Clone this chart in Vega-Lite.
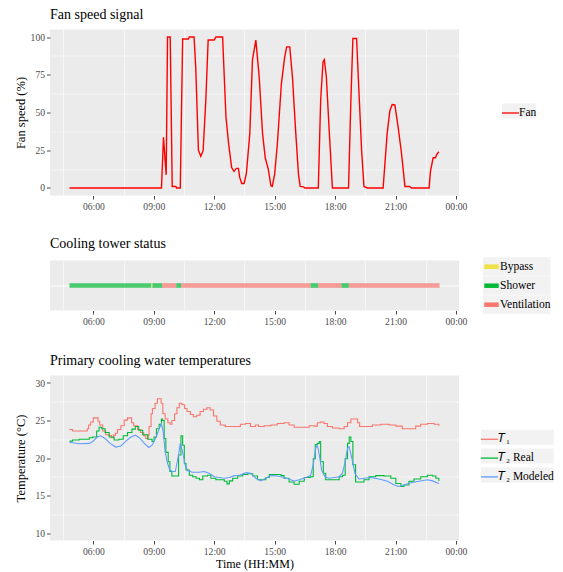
{
  "$schema": "https://vega.github.io/schema/vega-lite/v6.json",
  "padding": {"left": 14, "top": 7.5, "right": 5, "bottom": 3},
  "bounds": "flush",
  "spacing": 65,
  "resolve": {"scale": {"stroke": "independent", "x": "independent", "y": "independent"}, "legend": {"stroke": "independent"}},
  "config": {
    "view": {"fill": "#EBEBEB", "stroke": null},
    "font": "Liberation Serif",
    "axis": {"domain": false, "gridColor": "#FFFFFF", "gridWidth": 1.1, "tickColor": "#333333", "tickSize": 3.5, "tickWidth": 0.9, "labelFont": "Liberation Serif", "labelFontSize": 9.6, "labelColor": "#4D4D4D", "labelPadding": 2, "titleFont": "Liberation Serif", "titleFontSize": 12.5, "titleFontWeight": "normal", "titleColor": "#000000"},
    "legend": {"labelFont": "Liberation Serif", "labelFontSize": 11.5, "labelColor": "#000000", "symbolSize": 289, "symbolStrokeWidth": 1.3, "symbolType": "stroke", "symbolOffset": -1, "labelOffset": -1, "rowPadding": 0, "padding": 0, "symbolOpacity": 1},
    "title": {"font": "Liberation Serif", "fontSize": 14, "fontWeight": "normal", "anchor": "start", "frame": "group", "color": "#000000", "baseline": "alphabetic", "offset": 7.5}
  },
  "vconcat": [
    {
      "width": 409, "height": 166,
      "title": {"text": "Fan speed signal"},
      "data": {"values": [
        {"t": "04:49", "fan": 0}, {"t": "09:23", "fan": 0}, {"t": "09:29", "fan": 33.5}, {"t": "09:37", "fan": 8.7}, {"t": "09:41", "fan": 100}, {"t": "09:49", "fan": 100}, {"t": "09:55", "fan": 1}, {"t": "10:06", "fan": 1}, {"t": "10:08", "fan": 0}, {"t": "10:19", "fan": 0}, {"t": "10:26", "fan": 98.7}, {"t": "10:43", "fan": 98.7}, {"t": "10:46", "fan": 100}, {"t": "11:00", "fan": 100}, {"t": "11:05", "fan": 80}, {"t": "11:13", "fan": 25}, {"t": "11:20", "fan": 21}, {"t": "11:27", "fan": 24.7}, {"t": "11:35", "fan": 58}, {"t": "11:42", "fan": 98}, {"t": "12:00", "fan": 98}, {"t": "12:05", "fan": 100}, {"t": "12:25", "fan": 100}, {"t": "12:35", "fan": 47}, {"t": "12:43", "fan": 29}, {"t": "12:52", "fan": 13.5}, {"t": "12:59", "fan": 11}, {"t": "13:06", "fan": 13}, {"t": "13:12", "fan": 13}, {"t": "13:16", "fan": 7}, {"t": "13:22", "fan": 3}, {"t": "13:29", "fan": 3}, {"t": "13:36", "fan": 10}, {"t": "13:46", "fan": 36}, {"t": "13:54", "fan": 85}, {"t": "14:04", "fan": 98}, {"t": "14:14", "fan": 73.5}, {"t": "14:24", "fan": 36}, {"t": "14:32", "fan": 20}, {"t": "14:41", "fan": 12.5}, {"t": "14:49", "fan": 1.3}, {"t": "14:53", "fan": 1}, {"t": "15:00", "fan": 9}, {"t": "15:08", "fan": 29}, {"t": "15:20", "fan": 69}, {"t": "15:30", "fan": 87}, {"t": "15:36", "fan": 93.5}, {"t": "15:45", "fan": 93.5}, {"t": "15:53", "fan": 73.5}, {"t": "16:03", "fan": 36}, {"t": "16:11", "fan": 9}, {"t": "16:16", "fan": 1}, {"t": "16:26", "fan": 0.7}, {"t": "16:30", "fan": 0}, {"t": "17:10", "fan": 0}, {"t": "17:17", "fan": 58}, {"t": "17:24", "fan": 83.5}, {"t": "17:28", "fan": 85}, {"t": "17:34", "fan": 73.5}, {"t": "17:42", "fan": 40}, {"t": "17:52", "fan": 0}, {"t": "18:40", "fan": 0}, {"t": "18:47", "fan": 58}, {"t": "18:53", "fan": 99}, {"t": "19:04", "fan": 99}, {"t": "19:10", "fan": 69}, {"t": "19:19", "fan": 24.7}, {"t": "19:26", "fan": 1}, {"t": "19:36", "fan": 0}, {"t": "20:23", "fan": 0}, {"t": "20:35", "fan": 36}, {"t": "20:43", "fan": 51}, {"t": "20:50", "fan": 55.3}, {"t": "20:58", "fan": 55}, {"t": "21:08", "fan": 40}, {"t": "21:18", "fan": 22.5}, {"t": "21:28", "fan": 1}, {"t": "21:42", "fan": 1}, {"t": "21:48", "fan": 0}, {"t": "22:40", "fan": 0}, {"t": "22:44", "fan": 11}, {"t": "22:52", "fan": 20}, {"t": "22:59", "fan": 20}, {"t": "23:02", "fan": 22}, {"t": "23:09", "fan": 24}
      ], "format": {"parse": {"t": "date:'%H:%M'"}}},
      "layer": [
        {
          "mark": {"type": "line", "opacity": 0},
          "encoding": {
            "x": {"field": "t", "type": "temporal", "scale": {"domain": [{"year": 1900, "month": 1, "date": 1, "hours": 3, "minutes": 51}, {"year": 1900, "month": 1, "date": 2, "hours": 0, "minutes": 9}]}, "axis": {"orient": "bottom", "values": [{"year": 1900, "month": 1, "date": 1, "hours": 4, "minutes": 30}, {"year": 1900, "month": 1, "date": 1, "hours": 7, "minutes": 30}, {"year": 1900, "month": 1, "date": 1, "hours": 10, "minutes": 30}, {"year": 1900, "month": 1, "date": 1, "hours": 13, "minutes": 30}, {"year": 1900, "month": 1, "date": 1, "hours": 16, "minutes": 30}, {"year": 1900, "month": 1, "date": 1, "hours": 19, "minutes": 30}, {"year": 1900, "month": 1, "date": 1, "hours": 22, "minutes": 30}], "labels": false, "ticks": false, "title": null, "gridWidth": 0.55}},
            "y": {"field": "fan", "type": "quantitative", "scale": {"domain": [-5, 105], "nice": false}, "axis": {"orient": "left", "values": [12.5, 37.5, 62.5, 87.5], "labels": false, "ticks": false, "title": null, "gridWidth": 0.55}}
          }
        },
        {
          "mark": {"type": "line", "strokeWidth": 1.4},
          "encoding": {
            "x": {"field": "t", "type": "temporal", "scale": {"domain": [{"year": 1900, "month": 1, "date": 1, "hours": 3, "minutes": 51}, {"year": 1900, "month": 1, "date": 2, "hours": 0, "minutes": 9}]}, "axis": {"orient": "bottom", "values": [{"year": 1900, "month": 1, "date": 1, "hours": 6}, {"year": 1900, "month": 1, "date": 1, "hours": 9}, {"year": 1900, "month": 1, "date": 1, "hours": 12}, {"year": 1900, "month": 1, "date": 1, "hours": 15}, {"year": 1900, "month": 1, "date": 1, "hours": 18}, {"year": 1900, "month": 1, "date": 1, "hours": 21}, {"year": 1900, "month": 1, "date": 2, "hours": 0}], "format": "%H:%M", "formatType": "time", "labelDx": -7, "title": null}},
            "y": {"field": "fan", "type": "quantitative", "scale": {"domain": [-5, 105], "nice": false}, "axis": {"orient": "left", "values": [0, 25, 50, 75, 100], "title": "Fan speed (%)", "titleX": -23, "titleY": 83, "titleAngle": -90, "titleAlign": "center", "titleBaseline": "bottom"}},
            "stroke": {"datum": "Fan", "type": "nominal", "scale": {"domain": ["Fan"], "range": ["#FF0000"]}, "legend": {"orient": "none", "legendX": 452, "legendY": 74, "title": null, "symbolSize": 289, "symbolStrokeWidth": 1.3, "encode": {"entries": {"update": {"fill": {"value": "#F2F2F2"}, "width": {"value": 17}, "height": {"value": 18.5}}}}}}
          }
        }
      ],
      "resolve": {"axis": {"x": "independent", "y": "independent"}}
    },
    {
      "width": 409, "height": 50,
      "title": {"text": "Cooling tower status", "offset": 6},
      "data": {"values": [
        {"start": "04:49", "end": "08:53", "status": "Shower"},
        {"start": "08:53", "end": "08:56", "status": "Bypass"},
        {"start": "08:56", "end": "09:25", "status": "Shower"},
        {"start": "09:25", "end": "10:07", "status": "Ventilation"},
        {"start": "10:07", "end": "10:22", "status": "Shower"},
        {"start": "10:22", "end": "16:47", "status": "Ventilation"},
        {"start": "16:47", "end": "17:10", "status": "Shower"},
        {"start": "17:10", "end": "18:19", "status": "Ventilation"},
        {"start": "18:19", "end": "18:41", "status": "Shower"},
        {"start": "18:41", "end": "23:11", "status": "Ventilation"}
      ], "format": {"parse": {"start": "date:'%H:%M'", "end": "date:'%H:%M'"}}},
      "layer": [
        {
          "mark": {"type": "rule", "opacity": 0},
          "encoding": {
            "x": {"field": "start", "type": "temporal", "scale": {"domain": [{"year": 1900, "month": 1, "date": 1, "hours": 3, "minutes": 51}, {"year": 1900, "month": 1, "date": 2, "hours": 0, "minutes": 9}]}, "axis": {"orient": "bottom", "values": [{"year": 1900, "month": 1, "date": 1, "hours": 4, "minutes": 30}, {"year": 1900, "month": 1, "date": 1, "hours": 7, "minutes": 30}, {"year": 1900, "month": 1, "date": 1, "hours": 10, "minutes": 30}, {"year": 1900, "month": 1, "date": 1, "hours": 13, "minutes": 30}, {"year": 1900, "month": 1, "date": 1, "hours": 16, "minutes": 30}, {"year": 1900, "month": 1, "date": 1, "hours": 19, "minutes": 30}, {"year": 1900, "month": 1, "date": 1, "hours": 22, "minutes": 30}], "labels": false, "ticks": false, "title": null, "gridWidth": 0.55}},
            "x2": {"field": "end"},
            "y": {"datum": "tower", "type": "nominal", "scale": {"type": "point", "padding": 0.5}, "axis": null}
          }
        },
        {
          "mark": {"type": "rule", "strokeWidth": 4.7, "opacity": 0.7, "strokeCap": "butt"},
          "encoding": {
            "x": {"field": "start", "type": "temporal", "scale": {"domain": [{"year": 1900, "month": 1, "date": 1, "hours": 3, "minutes": 51}, {"year": 1900, "month": 1, "date": 2, "hours": 0, "minutes": 9}]}, "axis": {"orient": "bottom", "values": [{"year": 1900, "month": 1, "date": 1, "hours": 6}, {"year": 1900, "month": 1, "date": 1, "hours": 9}, {"year": 1900, "month": 1, "date": 1, "hours": 12}, {"year": 1900, "month": 1, "date": 1, "hours": 15}, {"year": 1900, "month": 1, "date": 1, "hours": 18}, {"year": 1900, "month": 1, "date": 1, "hours": 21}, {"year": 1900, "month": 1, "date": 2, "hours": 0}], "format": "%H:%M", "formatType": "time", "labelDx": -7, "title": null}},
            "x2": {"field": "end"},
            "y": {"datum": "tower", "type": "nominal", "scale": {"type": "point", "padding": 0.5}, "axis": {"orient": "left", "labels": false, "ticks": false, "title": null, "grid": true}},
            "stroke": {"field": "status", "type": "nominal", "scale": {"domain": ["Bypass", "Shower", "Ventilation"], "range": ["#EFE043", "#00BA38", "#F8766D"]}, "legend": {"orient": "none", "legendX": 433, "legendY": -3.3, "title": null, "symbolStrokeWidth": 4.5, "symbolSize": 210, "encode": {"entries": {"update": {"fill": {"value": "#F2F2F2"}, "width": {"value": 17}, "height": {"value": 18.5}}}}}}
          }
        }
      ],
      "resolve": {"axis": {"x": "independent", "y": "independent"}}
    },
    {
      "width": 409, "height": 165,
      "title": {"text": "Primary cooling water temperatures"},
      "data": {"values": [
        {"t": "04:49", "series": "T₁", "temp": 23.8}, {"t": "04:58", "series": "T₁", "temp": 23.6}, {"t": "05:12", "series": "T₁", "temp": 23.6}, {"t": "05:42", "series": "T₁", "temp": 23.9}, {"t": "05:46", "series": "T₁", "temp": 24.4}, {"t": "05:52", "series": "T₁", "temp": 24.8}, {"t": "06:00", "series": "T₁", "temp": 25.35}, {"t": "06:08", "series": "T₁", "temp": 25.35}, {"t": "06:14", "series": "T₁", "temp": 24.9}, {"t": "06:19", "series": "T₁", "temp": 24.4}, {"t": "06:28", "series": "T₁", "temp": 23.6}, {"t": "06:37", "series": "T₁", "temp": 23.1}, {"t": "06:47", "series": "T₁", "temp": 23.0}, {"t": "06:54", "series": "T₁", "temp": 22.7}, {"t": "07:00", "series": "T₁", "temp": 23.05}, {"t": "07:06", "series": "T₁", "temp": 23.3}, {"t": "07:12", "series": "T₁", "temp": 23.8}, {"t": "07:22", "series": "T₁", "temp": 24.3}, {"t": "07:32", "series": "T₁", "temp": 25.05}, {"t": "07:42", "series": "T₁", "temp": 25.35}, {"t": "07:48", "series": "T₁", "temp": 25.35}, {"t": "07:54", "series": "T₁", "temp": 24.7}, {"t": "08:00", "series": "T₁", "temp": 24.3}, {"t": "08:12", "series": "T₁", "temp": 23.8}, {"t": "08:21", "series": "T₁", "temp": 23.4}, {"t": "08:30", "series": "T₁", "temp": 22.96}, {"t": "08:36", "series": "T₁", "temp": 22.6}, {"t": "08:43", "series": "T₁", "temp": 23.05}, {"t": "08:46", "series": "T₁", "temp": 24.2}, {"t": "08:52", "series": "T₁", "temp": 25.9}, {"t": "08:56", "series": "T₁", "temp": 26.6}, {"t": "09:04", "series": "T₁", "temp": 27.3}, {"t": "09:11", "series": "T₁", "temp": 27.9}, {"t": "09:17", "series": "T₁", "temp": 27.9}, {"t": "09:22", "series": "T₁", "temp": 27.3}, {"t": "09:27", "series": "T₁", "temp": 25.9}, {"t": "09:34", "series": "T₁", "temp": 25.2}, {"t": "09:42", "series": "T₁", "temp": 24.7}, {"t": "09:49", "series": "T₁", "temp": 24.5}, {"t": "09:54", "series": "T₁", "temp": 25.0}, {"t": "10:02", "series": "T₁", "temp": 25.9}, {"t": "10:09", "series": "T₁", "temp": 26.7}, {"t": "10:16", "series": "T₁", "temp": 27.3}, {"t": "10:24", "series": "T₁", "temp": 27.1}, {"t": "10:32", "series": "T₁", "temp": 26.6}, {"t": "10:39", "series": "T₁", "temp": 26.2}, {"t": "10:49", "series": "T₁", "temp": 25.8}, {"t": "10:58", "series": "T₁", "temp": 25.5}, {"t": "11:08", "series": "T₁", "temp": 25.7}, {"t": "11:18", "series": "T₁", "temp": 26.2}, {"t": "11:28", "series": "T₁", "temp": 26.5}, {"t": "11:38", "series": "T₁", "temp": 26.7}, {"t": "11:48", "series": "T₁", "temp": 26.4}, {"t": "11:58", "series": "T₁", "temp": 25.6}, {"t": "12:08", "series": "T₁", "temp": 24.9}, {"t": "12:18", "series": "T₁", "temp": 24.4}, {"t": "12:33", "series": "T₁", "temp": 24.2}, {"t": "13:03", "series": "T₁", "temp": 24.2}, {"t": "13:18", "series": "T₁", "temp": 24.5}, {"t": "13:33", "series": "T₁", "temp": 24.6}, {"t": "13:48", "series": "T₁", "temp": 24.2}, {"t": "14:03", "series": "T₁", "temp": 24.4}, {"t": "14:12", "series": "T₁", "temp": 24.2}, {"t": "14:29", "series": "T₁", "temp": 24.3}, {"t": "14:49", "series": "T₁", "temp": 24.4}, {"t": "15:08", "series": "T₁", "temp": 24.6}, {"t": "15:28", "series": "T₁", "temp": 24.7}, {"t": "15:43", "series": "T₁", "temp": 24.4}, {"t": "15:58", "series": "T₁", "temp": 24.1}, {"t": "16:23", "series": "T₁", "temp": 24.1}, {"t": "16:43", "series": "T₁", "temp": 24.3}, {"t": "16:58", "series": "T₁", "temp": 24.25}, {"t": "17:07", "series": "T₁", "temp": 24.7}, {"t": "17:17", "series": "T₁", "temp": 24.8}, {"t": "17:27", "series": "T₁", "temp": 24.6}, {"t": "17:37", "series": "T₁", "temp": 24.2}, {"t": "17:52", "series": "T₁", "temp": 24.0}, {"t": "18:12", "series": "T₁", "temp": 23.9}, {"t": "18:27", "series": "T₁", "temp": 24.2}, {"t": "18:37", "series": "T₁", "temp": 24.7}, {"t": "18:47", "series": "T₁", "temp": 25.2}, {"t": "18:56", "series": "T₁", "temp": 25.2}, {"t": "19:07", "series": "T₁", "temp": 24.7}, {"t": "19:13", "series": "T₁", "temp": 24.2}, {"t": "19:31", "series": "T₁", "temp": 24.2}, {"t": "19:51", "series": "T₁", "temp": 24.4}, {"t": "20:16", "series": "T₁", "temp": 24.5}, {"t": "20:41", "series": "T₁", "temp": 24.4}, {"t": "21:01", "series": "T₁", "temp": 24.25}, {"t": "21:20", "series": "T₁", "temp": 23.9}, {"t": "21:40", "series": "T₁", "temp": 23.9}, {"t": "22:00", "series": "T₁", "temp": 24.25}, {"t": "22:15", "series": "T₁", "temp": 24.5}, {"t": "22:35", "series": "T₁", "temp": 24.6}, {"t": "22:55", "series": "T₁", "temp": 24.5}, {"t": "23:09", "series": "T₁", "temp": 24.3},
        {"t": "04:49", "series": "T₂ Real", "temp": 22.25}, {"t": "04:58", "series": "T₂ Real", "temp": 22.4}, {"t": "05:18", "series": "T₂ Real", "temp": 22.5}, {"t": "05:48", "series": "T₂ Real", "temp": 22.7}, {"t": "05:58", "series": "T₂ Real", "temp": 22.8}, {"t": "06:10", "series": "T₂ Real", "temp": 23.6}, {"t": "06:17", "series": "T₂ Real", "temp": 24.1}, {"t": "06:25", "series": "T₂ Real", "temp": 23.9}, {"t": "06:35", "series": "T₂ Real", "temp": 23.4}, {"t": "06:47", "series": "T₂ Real", "temp": 22.8}, {"t": "07:02", "series": "T₂ Real", "temp": 22.4}, {"t": "07:16", "series": "T₂ Real", "temp": 22.5}, {"t": "07:29", "series": "T₂ Real", "temp": 22.96}, {"t": "07:42", "series": "T₂ Real", "temp": 23.4}, {"t": "07:55", "series": "T₂ Real", "temp": 23.85}, {"t": "08:05", "series": "T₂ Real", "temp": 24.2}, {"t": "08:15", "series": "T₂ Real", "temp": 23.7}, {"t": "08:27", "series": "T₂ Real", "temp": 23.1}, {"t": "08:42", "series": "T₂ Real", "temp": 22.5}, {"t": "08:55", "series": "T₂ Real", "temp": 22.2}, {"t": "09:01", "series": "T₂ Real", "temp": 22.8}, {"t": "09:08", "series": "T₂ Real", "temp": 23.9}, {"t": "09:16", "series": "T₂ Real", "temp": 24.5}, {"t": "09:23", "series": "T₂ Real", "temp": 25.2}, {"t": "09:26", "series": "T₂ Real", "temp": 25.0}, {"t": "09:31", "series": "T₂ Real", "temp": 22.6}, {"t": "09:36", "series": "T₂ Real", "temp": 20.75}, {"t": "09:43", "series": "T₂ Real", "temp": 19.5}, {"t": "09:48", "series": "T₂ Real", "temp": 18.2}, {"t": "09:54", "series": "T₂ Real", "temp": 17.6}, {"t": "10:09", "series": "T₂ Real", "temp": 17.6}, {"t": "10:14", "series": "T₂ Real", "temp": 20.4}, {"t": "10:21", "series": "T₂ Real", "temp": 22.96}, {"t": "10:26", "series": "T₂ Real", "temp": 21.7}, {"t": "10:31", "series": "T₂ Real", "temp": 19.3}, {"t": "10:36", "series": "T₂ Real", "temp": 18.4}, {"t": "10:46", "series": "T₂ Real", "temp": 17.7}, {"t": "10:56", "series": "T₂ Real", "temp": 17.5}, {"t": "11:06", "series": "T₂ Real", "temp": 17.3}, {"t": "11:16", "series": "T₂ Real", "temp": 17.1}, {"t": "11:26", "series": "T₂ Real", "temp": 17.6}, {"t": "11:40", "series": "T₂ Real", "temp": 17.7}, {"t": "11:50", "series": "T₂ Real", "temp": 17.3}, {"t": "12:05", "series": "T₂ Real", "temp": 17.1}, {"t": "12:20", "series": "T₂ Real", "temp": 17.1}, {"t": "12:30", "series": "T₂ Real", "temp": 16.9}, {"t": "12:38", "series": "T₂ Real", "temp": 16.55}, {"t": "12:45", "series": "T₂ Real", "temp": 16.95}, {"t": "12:55", "series": "T₂ Real", "temp": 17.3}, {"t": "13:10", "series": "T₂ Real", "temp": 17.6}, {"t": "13:25", "series": "T₂ Real", "temp": 17.8}, {"t": "13:40", "series": "T₂ Real", "temp": 17.9}, {"t": "13:55", "series": "T₂ Real", "temp": 17.6}, {"t": "14:09", "series": "T₂ Real", "temp": 17.1}, {"t": "14:24", "series": "T₂ Real", "temp": 17.1}, {"t": "14:34", "series": "T₂ Real", "temp": 17.4}, {"t": "14:44", "series": "T₂ Real", "temp": 17.8}, {"t": "15:04", "series": "T₂ Real", "temp": 17.8}, {"t": "15:19", "series": "T₂ Real", "temp": 17.65}, {"t": "15:28", "series": "T₂ Real", "temp": 17.3}, {"t": "15:43", "series": "T₂ Real", "temp": 16.8}, {"t": "15:58", "series": "T₂ Real", "temp": 16.5}, {"t": "16:13", "series": "T₂ Real", "temp": 16.9}, {"t": "16:28", "series": "T₂ Real", "temp": 17.4}, {"t": "16:47", "series": "T₂ Real", "temp": 17.5}, {"t": "16:55", "series": "T₂ Real", "temp": 19.9}, {"t": "17:01", "series": "T₂ Real", "temp": 21.8}, {"t": "17:07", "series": "T₂ Real", "temp": 21.95}, {"t": "17:13", "series": "T₂ Real", "temp": 22.2}, {"t": "17:17", "series": "T₂ Real", "temp": 19.5}, {"t": "17:25", "series": "T₂ Real", "temp": 17.97}, {"t": "17:32", "series": "T₂ Real", "temp": 17.1}, {"t": "17:52", "series": "T₂ Real", "temp": 17.1}, {"t": "18:12", "series": "T₂ Real", "temp": 17.5}, {"t": "18:22", "series": "T₂ Real", "temp": 17.7}, {"t": "18:30", "series": "T₂ Real", "temp": 19.9}, {"t": "18:37", "series": "T₂ Real", "temp": 21.95}, {"t": "18:42", "series": "T₂ Real", "temp": 22.8}, {"t": "18:47", "series": "T₂ Real", "temp": 22.2}, {"t": "18:53", "series": "T₂ Real", "temp": 19.1}, {"t": "19:01", "series": "T₂ Real", "temp": 16.8}, {"t": "19:13", "series": "T₂ Real", "temp": 16.8}, {"t": "19:26", "series": "T₂ Real", "temp": 17.1}, {"t": "19:41", "series": "T₂ Real", "temp": 17.5}, {"t": "20:01", "series": "T₂ Real", "temp": 17.65}, {"t": "20:26", "series": "T₂ Real", "temp": 17.6}, {"t": "20:46", "series": "T₂ Real", "temp": 17.3}, {"t": "21:01", "series": "T₂ Real", "temp": 16.6}, {"t": "21:16", "series": "T₂ Real", "temp": 16.2}, {"t": "21:25", "series": "T₂ Real", "temp": 16.4}, {"t": "21:40", "series": "T₂ Real", "temp": 16.9}, {"t": "21:55", "series": "T₂ Real", "temp": 17.2}, {"t": "22:15", "series": "T₂ Real", "temp": 17.5}, {"t": "22:35", "series": "T₂ Real", "temp": 17.7}, {"t": "22:50", "series": "T₂ Real", "temp": 17.6}, {"t": "23:00", "series": "T₂ Real", "temp": 17.3}, {"t": "23:09", "series": "T₂ Real", "temp": 16.95},
        {"t": "04:49", "series": "T₂ Modeled", "temp": 22.1}, {"t": "05:18", "series": "T₂ Modeled", "temp": 21.9}, {"t": "05:48", "series": "T₂ Modeled", "temp": 21.95}, {"t": "05:58", "series": "T₂ Modeled", "temp": 22.2}, {"t": "06:12", "series": "T₂ Modeled", "temp": 22.8}, {"t": "06:22", "series": "T₂ Modeled", "temp": 22.96}, {"t": "06:35", "series": "T₂ Modeled", "temp": 22.6}, {"t": "06:50", "series": "T₂ Modeled", "temp": 21.95}, {"t": "07:07", "series": "T₂ Modeled", "temp": 21.46}, {"t": "07:22", "series": "T₂ Modeled", "temp": 21.6}, {"t": "07:37", "series": "T₂ Modeled", "temp": 22.25}, {"t": "07:52", "series": "T₂ Modeled", "temp": 22.8}, {"t": "08:05", "series": "T₂ Modeled", "temp": 23.05}, {"t": "08:17", "series": "T₂ Modeled", "temp": 22.7}, {"t": "08:32", "series": "T₂ Modeled", "temp": 21.95}, {"t": "08:45", "series": "T₂ Modeled", "temp": 21.4}, {"t": "08:55", "series": "T₂ Modeled", "temp": 21.7}, {"t": "09:07", "series": "T₂ Modeled", "temp": 22.8}, {"t": "09:16", "series": "T₂ Modeled", "temp": 23.9}, {"t": "09:23", "series": "T₂ Modeled", "temp": 24.55}, {"t": "09:28", "series": "T₂ Modeled", "temp": 23.5}, {"t": "09:34", "series": "T₂ Modeled", "temp": 20.8}, {"t": "09:41", "series": "T₂ Modeled", "temp": 19.3}, {"t": "09:48", "series": "T₂ Modeled", "temp": 18.4}, {"t": "09:56", "series": "T₂ Modeled", "temp": 18.2}, {"t": "10:04", "series": "T₂ Modeled", "temp": 18.2}, {"t": "10:11", "series": "T₂ Modeled", "temp": 19.7}, {"t": "10:19", "series": "T₂ Modeled", "temp": 21.95}, {"t": "10:26", "series": "T₂ Modeled", "temp": 20.8}, {"t": "10:33", "series": "T₂ Modeled", "temp": 19.1}, {"t": "10:41", "series": "T₂ Modeled", "temp": 18.3}, {"t": "10:56", "series": "T₂ Modeled", "temp": 18.1}, {"t": "11:16", "series": "T₂ Modeled", "temp": 18.1}, {"t": "11:30", "series": "T₂ Modeled", "temp": 18.2}, {"t": "11:45", "series": "T₂ Modeled", "temp": 17.97}, {"t": "12:00", "series": "T₂ Modeled", "temp": 17.5}, {"t": "12:15", "series": "T₂ Modeled", "temp": 17.4}, {"t": "12:30", "series": "T₂ Modeled", "temp": 17.3}, {"t": "12:45", "series": "T₂ Modeled", "temp": 17.4}, {"t": "13:00", "series": "T₂ Modeled", "temp": 17.65}, {"t": "13:15", "series": "T₂ Modeled", "temp": 17.7}, {"t": "13:35", "series": "T₂ Modeled", "temp": 18.05}, {"t": "13:49", "series": "T₂ Modeled", "temp": 17.97}, {"t": "14:04", "series": "T₂ Modeled", "temp": 17.3}, {"t": "14:19", "series": "T₂ Modeled", "temp": 16.95}, {"t": "14:29", "series": "T₂ Modeled", "temp": 17.2}, {"t": "14:49", "series": "T₂ Modeled", "temp": 17.65}, {"t": "15:08", "series": "T₂ Modeled", "temp": 17.6}, {"t": "15:28", "series": "T₂ Modeled", "temp": 17.4}, {"t": "15:43", "series": "T₂ Modeled", "temp": 17.2}, {"t": "15:58", "series": "T₂ Modeled", "temp": 16.9}, {"t": "16:13", "series": "T₂ Modeled", "temp": 17.1}, {"t": "16:33", "series": "T₂ Modeled", "temp": 17.4}, {"t": "16:47", "series": "T₂ Modeled", "temp": 17.65}, {"t": "16:55", "series": "T₂ Modeled", "temp": 19.1}, {"t": "17:02", "series": "T₂ Modeled", "temp": 21.3}, {"t": "17:07", "series": "T₂ Modeled", "temp": 21.7}, {"t": "17:13", "series": "T₂ Modeled", "temp": 20.4}, {"t": "17:20", "series": "T₂ Modeled", "temp": 18.4}, {"t": "17:30", "series": "T₂ Modeled", "temp": 17.5}, {"t": "17:42", "series": "T₂ Modeled", "temp": 17.3}, {"t": "17:57", "series": "T₂ Modeled", "temp": 17.4}, {"t": "18:12", "series": "T₂ Modeled", "temp": 17.5}, {"t": "18:22", "series": "T₂ Modeled", "temp": 17.97}, {"t": "18:30", "series": "T₂ Modeled", "temp": 19.5}, {"t": "18:37", "series": "T₂ Modeled", "temp": 21.3}, {"t": "18:42", "series": "T₂ Modeled", "temp": 21.5}, {"t": "18:50", "series": "T₂ Modeled", "temp": 19.95}, {"t": "18:59", "series": "T₂ Modeled", "temp": 17.97}, {"t": "19:11", "series": "T₂ Modeled", "temp": 17.2}, {"t": "19:26", "series": "T₂ Modeled", "temp": 17.3}, {"t": "19:46", "series": "T₂ Modeled", "temp": 17.4}, {"t": "20:11", "series": "T₂ Modeled", "temp": 17.2}, {"t": "20:36", "series": "T₂ Modeled", "temp": 16.9}, {"t": "20:56", "series": "T₂ Modeled", "temp": 16.4}, {"t": "21:10", "series": "T₂ Modeled", "temp": 16.2}, {"t": "21:25", "series": "T₂ Modeled", "temp": 16.4}, {"t": "21:45", "series": "T₂ Modeled", "temp": 16.7}, {"t": "22:10", "series": "T₂ Modeled", "temp": 16.9}, {"t": "22:35", "series": "T₂ Modeled", "temp": 17.1}, {"t": "22:50", "series": "T₂ Modeled", "temp": 16.95}, {"t": "23:09", "series": "T₂ Modeled", "temp": 16.6}
      ], "format": {"parse": {"t": "date:'%H:%M'"}}},
      "layer": [
        {
          "mark": {"type": "line", "opacity": 0},
          "encoding": {
            "x": {"field": "t", "type": "temporal", "scale": {"domain": [{"year": 1900, "month": 1, "date": 1, "hours": 3, "minutes": 51}, {"year": 1900, "month": 1, "date": 2, "hours": 0, "minutes": 9}]}, "axis": {"orient": "bottom", "values": [{"year": 1900, "month": 1, "date": 1, "hours": 4, "minutes": 30}, {"year": 1900, "month": 1, "date": 1, "hours": 7, "minutes": 30}, {"year": 1900, "month": 1, "date": 1, "hours": 10, "minutes": 30}, {"year": 1900, "month": 1, "date": 1, "hours": 13, "minutes": 30}, {"year": 1900, "month": 1, "date": 1, "hours": 16, "minutes": 30}, {"year": 1900, "month": 1, "date": 1, "hours": 19, "minutes": 30}, {"year": 1900, "month": 1, "date": 1, "hours": 22, "minutes": 30}], "labels": false, "ticks": false, "title": null, "gridWidth": 0.55}},
            "y": {"field": "temp", "type": "quantitative", "scale": {"domain": [9, 31], "nice": false}, "axis": {"orient": "left", "values": [12.5, 17.5, 22.5, 27.5], "labels": false, "ticks": false, "title": null, "gridWidth": 0.55}},
            "detail": {"field": "series", "type": "nominal"}
          }
        },
        {
          "transform": [{"filter": "datum.series != 'T₂ Modeled'"}],
          "mark": {"type": "line", "strokeWidth": 1.1, "interpolate": "step-after"},
          "encoding": {
            "x": {"field": "t", "type": "temporal", "scale": {"domain": [{"year": 1900, "month": 1, "date": 1, "hours": 3, "minutes": 51}, {"year": 1900, "month": 1, "date": 2, "hours": 0, "minutes": 9}]}, "axis": {"orient": "bottom", "values": [{"year": 1900, "month": 1, "date": 1, "hours": 6}, {"year": 1900, "month": 1, "date": 1, "hours": 9}, {"year": 1900, "month": 1, "date": 1, "hours": 12}, {"year": 1900, "month": 1, "date": 1, "hours": 15}, {"year": 1900, "month": 1, "date": 1, "hours": 18}, {"year": 1900, "month": 1, "date": 1, "hours": 21}, {"year": 1900, "month": 1, "date": 2, "hours": 0}], "format": "%H:%M", "formatType": "time", "labelDx": -7, "title": "Time (HH:MM)", "titleFontSize": 12, "titleY": 27, "titleBaseline": "alphabetic"}},
            "y": {"field": "temp", "type": "quantitative", "scale": {"domain": [9, 31], "nice": false}, "axis": {"orient": "left", "values": [10, 15, 20, 25, 30], "title": "Temperature (°C)", "titleX": -23, "titleY": 82.5, "titleAngle": -90, "titleAlign": "center", "titleBaseline": "bottom"}},
            "stroke": {"field": "series", "type": "nominal", "scale": {"domain": ["T₁", "T₂ Real", "T₂ Modeled"], "range": ["#F8766D", "#00BA38", "#619CFF"]}, "legend": {"orient": "none", "legendX": 431, "legendY": 54.3, "title": null, "symbolSize": 289, "symbolStrokeWidth": 1.3, "rowPadding": 3.8, "labelExpr": "replace(datum.label, 'T', '𝑇')", "encode": {"entries": {"update": {"fill": {"value": "#F2F2F2"}, "width": {"value": 17}, "height": {"value": 18.5}}}}}}
          }
        },
        {
          "transform": [{"filter": "datum.series == 'T₂ Modeled'"}],
          "mark": {"type": "line", "strokeWidth": 1.1},
          "encoding": {
            "x": {"field": "t", "type": "temporal", "axis": null},
            "y": {"field": "temp", "type": "quantitative", "axis": null},
            "stroke": {"field": "series", "type": "nominal", "legend": null}
          }
        }
      ],
      "resolve": {"axis": {"x": "independent", "y": "independent"}}
    }
  ]
}
